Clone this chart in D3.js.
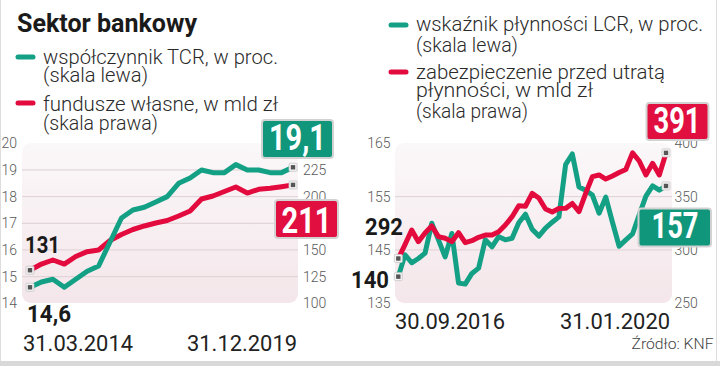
<!DOCTYPE html>
<html><head><meta charset="utf-8">
<script src="https://cdn.jsdelivr.net/npm/d3@7"></script>
<style>
html,body{margin:0;padding:0;background:#fff;}
svg{display:block;font-family:Roboto,"Noto Sans",sans-serif;}
</style></head>
<body>
<svg id="c" width="720" height="366"></svg>
<script>
// ---------- data ----------
const tcrDates = ["31.03.2014", "31.12.2019"];
const tcr = [14.6, 14.8, 14.9, 14.6, 14.9, 15.2, 15.4, 16.3, 17.2, 17.5, 17.6, 17.8,
             18.0, 18.5, 18.7, 19.0, 18.9, 18.9, 19.2, 19.0, 19.0, 18.9, 18.9, 19.1];
const funds = [131, 136.8, 140.6, 136.8, 143.9, 148.4, 150, 158.9, 164.5, 169.2, 172.5, 175.3,
               177.6, 181.8, 186.5, 197.8, 200.6, 204.8, 209, 203.4, 206.9, 207.8, 209.3, 211];
const lcrDates = ["30.09.2016", "31.01.2020"];
const lcr = [140, 144.1, 142.6, 143.4, 144.4, 150, 146.9, 143.7, 148.1, 138.8, 138.6, 140.6,
             141.6, 146.9, 145.6, 147.5, 146.9, 147.2, 150.1, 151.7, 148.9, 147.6, 149.1, 150.2,
             151.2, 161, 163, 156.8, 156.2, 155.3, 151.9, 154.9, 150.2, 145.7, 146.9, 148,
             151.6, 155.1, 157, 156.2, 157];
const buffer = [292, 305, 318.7, 307.8, 316, 322.5, 312.5, 311, 307.8, 316.2, 306.8, 308.7,
                311.9, 314, 314, 317.1, 323.4, 331.2, 341.5, 341, 353, 348.7, 338.4, 335.6,
                338.9, 339, 343.6, 335.9, 353, 368.7, 370.3, 366.5, 369.3, 372.6, 375.4, 391,
                383.4, 370.3, 381.2, 370.3, 391];
const tcrTicks = [14, 15, 16, 17, 18, 19, 20];
const fundsTicks = [100, 125, 150, 200, 225];
const lcrTicks = [135, 145, 155, 165];
const bufferTicks = [250, 300, 350, 400];
const legendL = [["współczynnik TCR, w proc.", "(skala lewa)"], ["fundusze własne, w mld zł", "(skala prawa)"]];
const legendR = [["wskaźnik płynności LCR, w proc.", "(skala lewa)"], ["zabezpieczenie przed utratą", "płynności, w mld zł", "(skala prawa)"]];
const titleText = "Sektor bankowy";
const sourceText = "Źródło: KNF";

// ---------- style ----------
const TEAL = "#13a085", RED = "#e30b3e", TEALBOX = "#0f967b", REDBOX = "#e10f3f";
const svg = d3.select("#c");

const defs = svg.append("defs");
const g = defs.append("linearGradient").attr("id", "bg").attr("x1", 0).attr("y1", 0).attr("x2", 0).attr("y2", 1);
g.append("stop").attr("offset", "0%").attr("stop-color", "#fbf8f9");
g.append("stop").attr("offset", "100%").attr("stop-color", "#f4e6ea");

// frame
svg.append("rect").attr("x", 0).attr("y", 361).attr("width", 720).attr("height", 5).attr("fill", "#d9d9d9");
svg.append("line").attr("x1", 0.5).attr("x2", 0.5).attr("y1", 0).attr("y2", 361).attr("stroke", "#ddd");
svg.append("line").attr("x1", 716.5).attr("x2", 716.5).attr("y1", 0).attr("y2", 361).attr("stroke", "#ddd");

function txt(parent, s, x, y, o) {
  const t = parent.append("text").attr("x", x).attr("y", y).text(s)
    .attr("font-size", o.size).attr("font-weight", o.weight || 400).attr("fill", o.fill || "#222")
    .attr("text-anchor", o.anchor || "start");
  if (o.len) t.attr("textLength", o.len).attr("lengthAdjust", "spacingAndGlyphs");
  return t;
}

// title
txt(svg, titleText, 17, 31.5, {size: 25, weight: 700, fill: "#1a1a1a", len: 180});

// legends
function legend(x0, items, dashY, lineY, widths) {
  items.forEach((lines, k) => {
    svg.append("line").attr("x1", x0).attr("x2", x0 + 15).attr("y1", dashY[k]).attr("y2", dashY[k])
      .attr("stroke", k === 0 ? TEAL : RED).attr("stroke-width", 5).attr("stroke-linecap", "round");
    lines.forEach((s, j) => {
      txt(svg, s, x0 + 25, lineY[k][j], {size: 20, weight: 300, fill: "#2a2a2a", len: widths[k][j]});
    });
  });
}
legend(18, legendL, [57, 103], [[63.5, 82], [111, 129.5]], [[235, 105], [235, 115]]);
legend(391, legendR, [25, 72], [[31, 51.5], [79, 97, 117.5]], [[287, 102], [249, 177, 112]]);

// ---------- panel builder ----------
function panel(o) {
  const p = svg.append("g");
  const x = d3.scaleLinear().domain([0, o.a.length - 1]).range(o.xr);
  const yA = d3.scaleLinear().domain(o.dA).range([303.3, 143.3]);
  const yB = d3.scaleLinear().domain(o.dB).range([303.3, 143.3]);
  p.append("rect").attr("x", o.bg[0]).attr("y", 143).attr("width", o.bg[1] - o.bg[0]).attr("height", 160)
    .attr("rx", 9).attr("fill", "url(#bg)");
  p.selectAll("line.grid").data(o.grid).join("line").attr("class", "grid")
    .attr("x1", o.bg[0]).attr("x2", o.bg[1]).attr("y1", d => yA(d)).attr("y2", d => yA(d))
    .attr("stroke", "#ddd0d4").attr("stroke-width", 1);
  const axL = p.append("g").attr("transform", `translate(${o.axL},0)`)
    .call(d3.axisLeft(yA).tickValues(o.tA).tickFormat(d3.format("d")).tickSize(0).tickPadding(0));
  const axR = p.append("g").attr("transform", `translate(${o.axR},0)`)
    .call(d3.axisRight(yB).tickValues(o.tB).tickFormat(d3.format("d")).tickSize(0).tickPadding(0));
  [axL, axR].forEach(a => {
    a.select(".domain").remove();
    a.selectAll("text").attr("font-size", 14).attr("fill", "#5a5a5a").attr("font-family", "Roboto, sans-serif").attr("font-weight", 300);
  });
  const lA = d3.line().x((d, i) => x(i)).y(d => yA(d));
  const lB = d3.line().x((d, i) => x(i)).y(d => yB(d));
  const drawA = () => p.append("path").attr("d", lA(o.a)).attr("fill", "none").attr("stroke", TEAL)
    .attr("stroke-width", 5).attr("stroke-linejoin", "round");
  const drawB = () => p.append("path").attr("d", lB(o.b)).attr("fill", "none").attr("stroke", RED)
    .attr("stroke-width", 5).attr("stroke-linejoin", "round");
  if (o.redTop) { drawA(); drawB(); } else { drawB(); drawA(); }
  const n = o.a.length - 1;
  const ends = [[x(0), yA(o.a[0])], [x(n), yA(o.a[n])], [x(0), yB(o.b[0])], [x(n), yB(o.b[n])]];
  ends.forEach(([cx, cy]) => {
    p.append("rect").attr("x", cx - 4).attr("y", cy - 4).attr("width", 8).attr("height", 8).attr("rx", 1)
      .attr("fill", "#f4f4f4").attr("stroke", "#c8c8c8").attr("stroke-width", 0.8);
    p.append("rect").attr("x", cx - 2.2).attr("y", cy - 2.2).attr("width", 4.4).attr("height", 4.4).attr("fill", "#555");
  });
  return {x, yA, yB};
}

panel({a: tcr, b: funds, xr: [30, 293], dA: [14, 20], dB: [100, 250], bg: [22, 298],
       grid: [15, 16, 17, 18, 19], tA: tcrTicks, tB: fundsTicks, axL: 17, axR: 303, redTop: false});
panel({a: lcr, b: buffer, xr: [398.3, 666], dA: [135, 165], dB: [250, 400], bg: [395, 672],
       grid: [145, 155], tA: lcrTicks, tB: bufferTicks, axL: 390.5, axR: 674.5, redTop: true});

// value boxes
function box(x0, y0, w, h, fill, s, tx, tb, tl) {
  svg.append("rect").attr("x", x0).attr("y", y0).attr("width", w).attr("height", h).attr("rx", 3)
    .attr("fill", fill).attr("stroke", "#d2d2d2").attr("stroke-width", 2);
  txt(svg, s, tx, tb, {size: 36, weight: 700, fill: "#fff", anchor: "middle", len: tl});
}
const fmt = v => String(v).replace(".", ",");
box(262, 120, 71, 38, TEALBOX, fmt(tcr[tcr.length - 1]), 297.5, 150, 57);
box(275, 200, 63, 38, REDBOX, fmt(funds[funds.length - 1]), 306.5, 233.3, 50);
box(646.5, 103, 62, 37, REDBOX, fmt(buffer[buffer.length - 1]), 677, 133.3, 47);
box(638.5, 208.5, 72.5, 38, TEALBOX, fmt(lcr[lcr.length - 1]), 675, 238.3, 47);

// start labels
txt(svg, fmt(funds[0]), 25, 253.3, {size: 23.5, weight: 700, fill: "#1a1a1a", len: 35});
txt(svg, fmt(tcr[0]), 27, 321.7, {size: 23, weight: 700, fill: "#1a1a1a", len: 44});
txt(svg, fmt(buffer[0]), 365, 235, {size: 23.5, weight: 700, fill: "#1a1a1a", len: 38});
txt(svg, fmt(lcr[0]), 351, 288, {size: 23.5, weight: 700, fill: "#1a1a1a", len: 38});

// date labels
txt(svg, tcrDates[0], 23, 351, {size: 22, fill: "#222", len: 110});
txt(svg, tcrDates[1], 297, 351, {size: 22, fill: "#222", anchor: "end", len: 110});
txt(svg, lcrDates[0], 395, 328.5, {size: 22, fill: "#222", len: 110});
txt(svg, lcrDates[1], 670, 328.5, {size: 22, fill: "#222", anchor: "end", len: 110});

// source
txt(svg, sourceText, 713.5, 348.5, {size: 15, weight: 300, fill: "#444", anchor: "end", len: 82});
</script>
</body></html>
